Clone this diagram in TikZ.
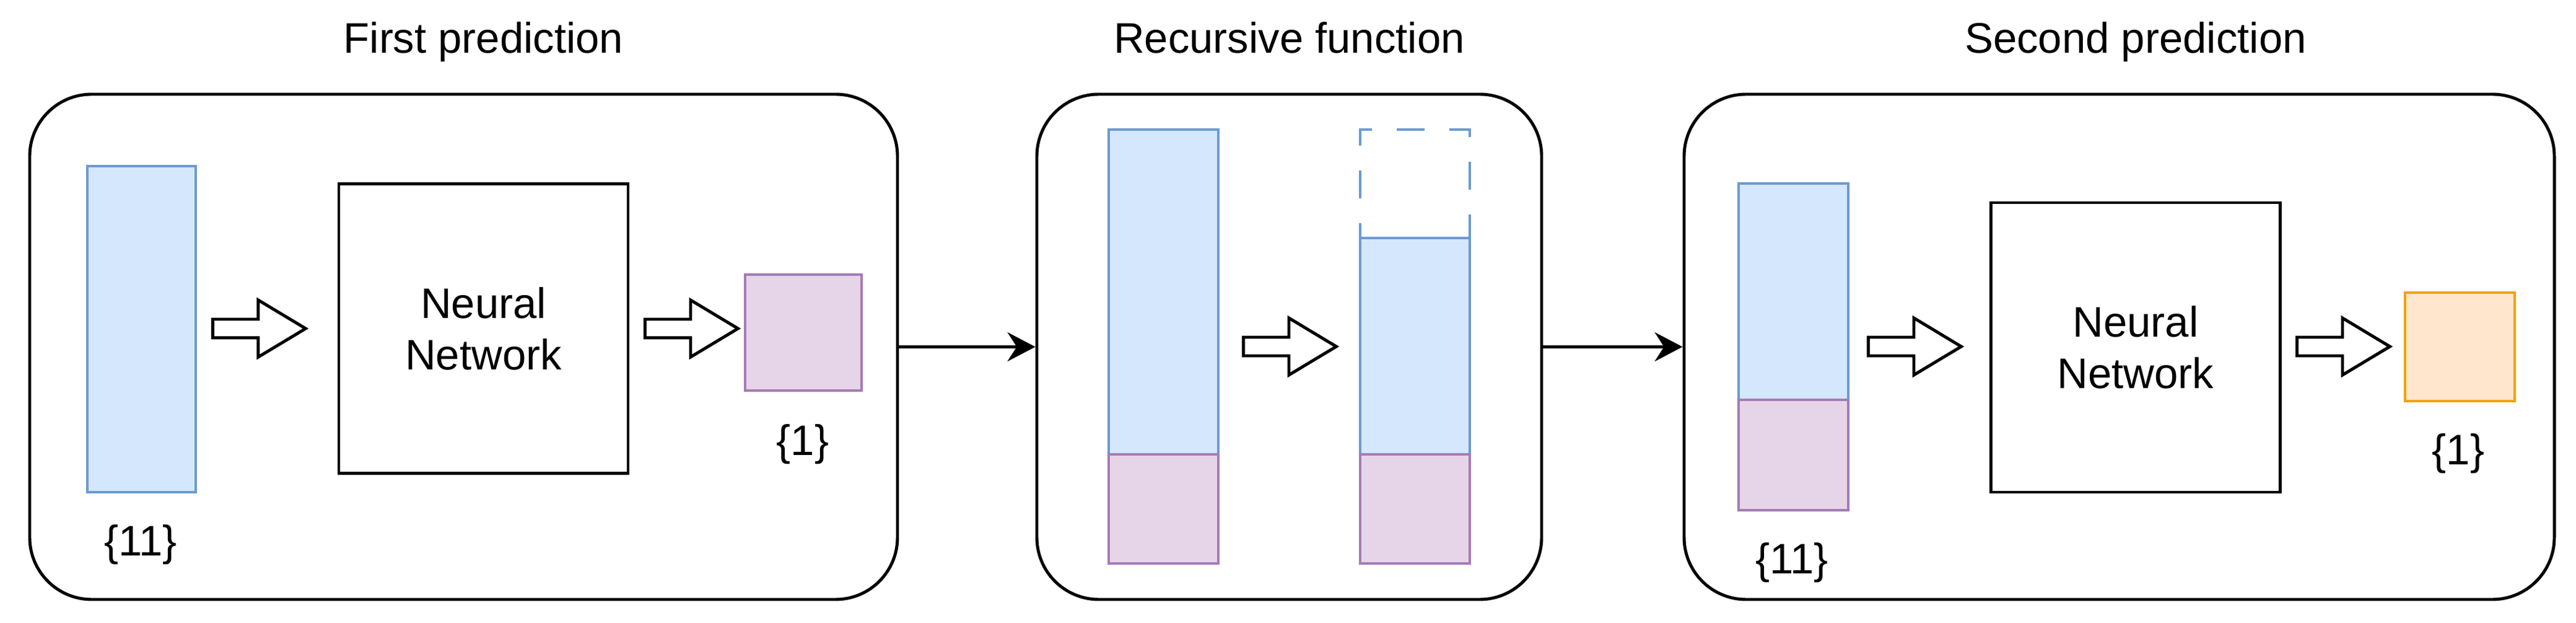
\documentclass[tikz,border=0pt]{standalone}
\usepackage{fontspec}
\setmainfont{Liberation Sans}
\usetikzlibrary{arrows.meta}
\usetikzlibrary{shapes.arrows}

\definecolor{featblue}{HTML}{D4E7FC}
\definecolor{featblueline}{HTML}{6C9AD0}
\definecolor{predpurple}{HTML}{E6D5E8}
\definecolor{predpurpleline}{HTML}{A67AB6}
\definecolor{outorange}{HTML}{FFE6CC}
\definecolor{outorangeline}{HTML}{F0A30A}

\begin{document}
\begin{tikzpicture}[
        font=\fontsize{19.6}{23.6}\selectfont,
        >={Stealth[length=4.5mm,width=4.7mm,inset=1.5mm]},
        panel/.style={rectangle,draw,rounded corners=1cm,line width=1.4pt,minimum height=8.15cm},
        netbox/.style={rectangle,draw,line width=1.4pt,minimum width=4.67cm,minimum height=4.67cm,align=center},
        cell/.style={rectangle,draw,line width=1pt,inner sep=0pt},
        hollow/.style={single arrow,draw,line width=1.4pt,inner xsep=0pt,inner ysep=0.125cm,minimum height=1.5cm,minimum width=0.87cm,single arrow head extend=0.31cm,single arrow tip angle=62},
        title/.style={anchor=base}
    ]
        \useasboundingbox (0,0) rectangle (41.59,10.04);

        % panels
        \node[panel,minimum width=14.01cm] (first) at (7.485,4.445) {};
        \node[panel,minimum width=8.15cm] (recur) at (20.815,4.445) {};
        \node[panel,minimum width=14.05cm] (second) at (34.215,4.445) {};

        \node[title] (t_first) at (7.805,9.18) {First prediction};
        \node[title] (t_recur) at (20.815,9.18) {Recursive function};
        \node[title] (t_second) at (34.48,9.18) {Second prediction};

        % first prediction
        \node[cell,fill=featblue,draw=featblueline,minimum width=1.75cm,minimum height=5.26cm] (in1) at (2.285,4.73) {};
        \node[hollow] (a1) at (4.06,4.74) {};
        \node[netbox] (nn1) at (7.805,4.74) {Neural\\Network};
        \node[hollow] (a2) at (11.04,4.74) {};
        \node[cell,fill=predpurple,draw=predpurpleline,minimum width=1.88cm,minimum height=1.87cm] (out1) at (12.97,4.675) {};
        \node (l_in1) at (2.27,1.25) {\{11\}};
        \node (l_out1) at (12.96,2.87) {\{1\}};

        % recursive function
        \node[cell,fill=featblue,draw=featblueline,minimum width=1.77cm,minimum height=5.24cm] (old) at (18.785,5.33) {};
        \node[cell,fill=predpurple,draw=predpurpleline,minimum width=1.77cm,minimum height=1.76cm] (old_p) at (18.785,1.83) {};
        \node[hollow] (a3) at (20.70,4.45) {};
        \node[cell,fill=featblue,draw=featblueline,minimum width=1.77cm,minimum height=3.49cm] (new) at (22.845,4.455) {};
        \node[cell,fill=predpurple,draw=predpurpleline,minimum width=1.77cm,minimum height=1.76cm] (new_p) at (22.845,1.83) {};
        \node[cell,draw=featblueline,dash pattern=on 0.45cm off 0.4cm,minimum width=1.77cm,minimum height=1.75cm] (drop) at (22.845,7.075) {};

        % second prediction
        \node[cell,fill=featblue,draw=featblueline,minimum width=1.77cm,minimum height=3.49cm] (in2) at (28.955,5.335) {};
        \node[cell,fill=predpurple,draw=predpurpleline,minimum width=1.77cm,minimum height=1.78cm] (in2_p) at (28.955,2.70) {};
        \node[hollow] (a4) at (30.79,4.45) {};
        \node[netbox] (nn2) at (34.48,4.435) {Neural\\Network};
        \node[hollow] (a5) at (37.71,4.45) {};
        \node[cell,fill=outorange,draw=outorangeline,minimum width=1.77cm,minimum height=1.75cm] (out2) at (39.715,4.445) {};
        \node (l_in2) at (28.93,0.96) {\{11\}};
        \node (l_out2) at (39.69,2.72) {\{1\}};

        \draw[->,line width=1.3pt] (first) -- (recur);
        \draw[->,line width=1.3pt] (recur) -- (second);

    \end{tikzpicture}
\end{document}
